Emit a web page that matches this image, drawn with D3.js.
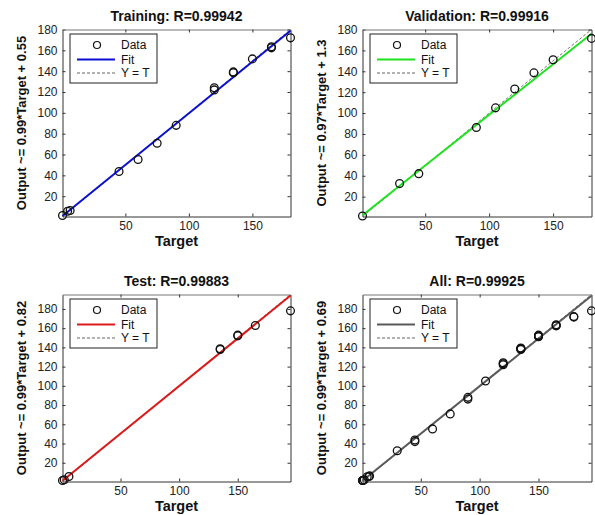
<!DOCTYPE html>
<html><head><meta charset="utf-8">
<script src="https://d3js.org/d3.v7.min.js"></script>
<style>
html,body{margin:0;padding:0;background:#fff;}
svg{display:block;font-family:Arial,"Liberation Sans",sans-serif;}
</style></head>
<body><svg id="chart" width="595" height="515"></svg>
<script>
// ---- data ----
const trainTargets = [0.5, 4.5, 6.5, 45, 60, 75, 90, 120, 120, 135, 135, 150, 165, 165, 180];
const trainOutputs = [1.5, 5.5, 6.3, 43.7, 55.2, 70.8, 88, 122, 124, 138.4, 139.3, 151.8, 162.4, 163.5, 172];
const valTargets = [1, 30, 45, 90, 105, 120, 135, 150, 180];
const valOutputs = [1.5, 32.5, 42, 86.2, 105, 123, 138.5, 151, 171.5];
const testTargets = [0.5, 2, 6, 135, 135, 150, 150, 165, 195];
const testOutputs = [1.5, 2.3, 5.7, 137.8, 138.5, 152, 152.7, 162.8, 178];
const allTargets = trainTargets.concat(valTargets, testTargets);
const allOutputs = trainOutputs.concat(valOutputs, testOutputs);

const titles = ["Training: R=0.99942", "Validation: R=0.99916", "Test: R=0.99883", "All: R=0.99925"];
const fitSlopes = [0.99, 0.97, 0.99, 0.99];
const fitIntercepts = [0.55, 1.3, 0.82, 0.69];
const yLabels = ["Output ~= 0.99*Target + 0.55", "Output ~= 0.97*Target + 1.3",
                 "Output ~= 0.99*Target + 0.82", "Output ~= 0.99*Target + 0.69"];
const fitColors = ["#0a0fd0", "#1ee31e", "#dc1a1a", "#5a5a5a"];
const xTicks = [50, 100, 150];
const yTicks = [20, 40, 60, 80, 100, 120, 140, 160, 180];
const legendLabels = ["Data", "Fit", "Y = T"];

const targetsList = [trainTargets, valTargets, testTargets, allTargets];
const outputsList = [trainOutputs, valOutputs, testOutputs, allOutputs];

// ---- layout ----
const boxes = [
  {x0: 62.5, x1: 290.5, y0: 29.5, y1: 216.5},
  {x0: 362.5, x1: 591.5, y0: 29.5, y1: 216.5},
  {x0: 62.5, x1: 290.5, y0: 294.5, y1: 481.5},
  {x0: 362.5, x1: 591.5, y0: 294.5, y1: 481.5}
];

const svg = d3.select("#chart");

boxes.forEach((b, i) => {
  const T = targetsList[i], O = outputsList[i];
  const lo = Math.min(d3.min(T), d3.min(O));
  const hi = Math.max(d3.max(T), d3.max(O));
  const x = d3.scaleLinear().domain([lo, hi]).range([b.x0, b.x1]);
  const y = d3.scaleLinear().domain([lo, hi]).range([b.y1, b.y0]);
  const g = svg.append("g");
  const w = b.x1 - b.x0, h = b.y1 - b.y0;

  g.append("rect").attr("x", b.x0).attr("y", b.y0).attr("width", w).attr("height", h)
    .attr("fill", "#fff").attr("stroke", "none");

  const ax = d3.axisBottom(x).tickValues(xTicks).tickSizeInner(-3).tickSizeOuter(0).tickPadding(5);
  const ay = d3.axisLeft(y).tickValues(yTicks).tickSizeInner(-3).tickSizeOuter(0).tickPadding(5);
  const gx = g.append("g").attr("transform", `translate(0,${b.y1})`).call(ax);
  const gy = g.append("g").attr("transform", `translate(${b.x0},0)`).call(ay);
  const axT = d3.axisTop(x).tickValues(xTicks).tickSizeInner(-3).tickSizeOuter(0).tickFormat("");
  const ayR = d3.axisRight(y).tickValues(yTicks).tickSizeInner(-3).tickSizeOuter(0).tickFormat("");
  const gxt = g.append("g").attr("transform", `translate(0,${b.y0})`).call(axT);
  const gyr = g.append("g").attr("transform", `translate(${b.x1},0)`).call(ayR);
  [gx, gy, gxt, gyr].forEach(a => {
    a.select(".domain").attr("stroke", "#333").attr("stroke-width", 1);
    a.selectAll(".tick line").attr("stroke", "#333");
    a.selectAll("text").attr("font-size", 12).attr("fill", "#222")
      .attr("font-family", "Arial, 'Liberation Sans', sans-serif");
  });
  gxt.select(".domain").attr("stroke", "#777");

  g.append("line").attr("x1", x(lo)).attr("y1", y(lo)).attr("x2", x(hi)).attr("y2", y(hi))
    .attr("stroke", "#777").attr("stroke-width", 1).attr("stroke-dasharray", "3,2");

  const f = t => fitSlopes[i] * t + fitIntercepts[i];
  g.append("line").attr("x1", x(lo)).attr("y1", y(f(lo))).attr("x2", x(hi)).attr("y2", y(Math.min(f(hi), hi)))
    .attr("stroke", fitColors[i]).attr("stroke-width", 2);

  g.selectAll("circle.pt").data(T.map((t, k) => [t, O[k]])).join("circle")
    .attr("class", "pt").attr("cx", d => x(d[0])).attr("cy", d => y(d[1])).attr("r", 3.9)
    .attr("fill", "none").attr("stroke", "#111").attr("stroke-width", 1.3);

  g.append("text").attr("x", (b.x0 + b.x1) / 2).attr("y", b.y0 - 9).attr("text-anchor", "middle")
    .attr("font-size", 14).attr("font-weight", "bold").attr("fill", "#111").text(titles[i]);
  g.append("text").attr("x", (b.x0 + b.x1) / 2).attr("y", b.y1 + 29.5).attr("text-anchor", "middle")
    .attr("font-size", 14.5).attr("font-weight", "bold").attr("fill", "#111").text("Target");
  g.append("text").attr("transform", `translate(${b.x0 - 37},${(b.y0 + b.y1) / 2}) rotate(-90)`)
    .attr("text-anchor", "middle").attr("font-size", 13).attr("font-weight", "bold").attr("fill", "#111")
    .text(yLabels[i]);

  const lx = b.x0 + 7.5, ly = b.y0 + 4.5;
  const lg = g.append("g");
  lg.append("rect").attr("x", lx).attr("y", ly).attr("width", 87).attr("height", 49)
    .attr("fill", "#fff").attr("stroke", "#222").attr("stroke-width", 1);
  const rows = [11, 25.5, 39];
  lg.append("circle").attr("cx", lx + 27).attr("cy", ly + rows[0]).attr("r", 3.5)
    .attr("fill", "none").attr("stroke", "#111").attr("stroke-width", 1.2);
  lg.append("line").attr("x1", lx + 7).attr("x2", lx + 45).attr("y1", ly + rows[1]).attr("y2", ly + rows[1])
    .attr("stroke", fitColors[i]).attr("stroke-width", 2);
  lg.append("line").attr("x1", lx + 7).attr("x2", lx + 45).attr("y1", ly + rows[2]).attr("y2", ly + rows[2])
    .attr("stroke", "#666").attr("stroke-width", 1).attr("stroke-dasharray", "3,2");
  legendLabels.forEach((t, k) => {
    lg.append("text").attr("x", lx + 51).attr("y", ly + rows[k] + 4).attr("font-size", 12)
      .attr("fill", "#111").text(t);
  });
});
</script>
</body></html>
